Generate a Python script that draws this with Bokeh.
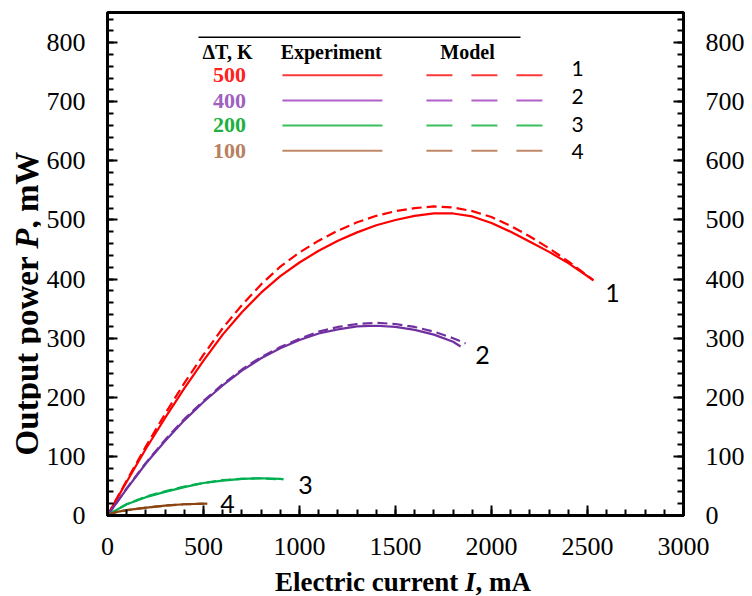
from bokeh.plotting import figure
from bokeh.models import LinearAxis, Range1d, Label, SingleIntervalTicker, Div
from bokeh.layouts import row, column
from bokeh.embed import file_html
from bokeh.resources import INLINE

# ---------------- data ----------------
# curve 1 : dT = 500 K
i500_exp = [0, 50, 100, 200, 300, 400, 500, 600, 700, 800, 900, 1000, 1100, 1200, 1300,
            1400, 1500, 1600, 1700, 1800, 1900, 2000, 2100, 2200, 2300, 2400, 2531]
p500_exp = [0, 29, 57, 113, 165, 215, 262, 306, 344, 377, 405, 428, 448, 465, 479,
            491, 500, 507, 511, 511, 506, 495, 480, 463, 446, 427, 398]
i500_mod = [0, 50, 100, 200, 300, 400, 500, 600, 700, 800, 900, 1000, 1100, 1200, 1300,
            1400, 1500, 1600, 1700, 1800, 1900, 2000, 2100, 2200, 2300, 2400, 2531]
p500_mod = [0, 30, 59, 117, 172, 224, 272, 317, 356, 391, 421, 445, 465, 482, 496,
            507, 515, 520, 523, 521, 515, 505, 490, 472, 452, 430, 398]
# curve 2 : dT = 400 K
i400_exp = [0, 100, 200, 300, 400, 500, 600, 700, 800, 900, 1000, 1100, 1200, 1300,
            1400, 1500, 1600, 1700, 1800, 1839]
p400_exp = [0, 45, 88, 126, 161, 192, 220, 245, 266, 283, 297, 308, 315, 320,
            321, 319, 314, 306, 294, 286]
i400_mod = [0, 100, 200, 300, 400, 500, 600, 700, 800, 900, 1000, 1100, 1200, 1300,
            1400, 1500, 1600, 1700, 1800, 1865]
p400_mod = [0, 46, 89, 128, 163, 194, 222, 247, 268, 285, 299, 311, 319, 324,
            326, 324, 319, 311, 300, 291]
# curve 3 : dT = 200 K
i200_exp = [0, 50, 100, 200, 300, 400, 500, 600, 700, 800, 900, 917]
p200_exp = [0, 10, 19, 31, 40, 48, 55, 59, 62, 63, 62, 61]
i200_mod = [0, 50, 100, 200, 300, 400, 500, 600, 700, 800, 900]
p200_mod = [0, 10, 19, 32, 41, 49, 55, 60, 62, 63, 61]
# curve 4 : dT = 100 K
i100_exp = [0, 16, 50, 100, 172, 250, 312, 400, 520]
p100_exp = [0, 3, 6, 9, 12, 15, 17, 19, 20]
i100_mod = [0, 16, 50, 100, 172, 250, 312, 400, 500]
p100_mod = [0, 3, 6, 9, 12, 15, 17, 19, 20]

legend_dt = ["500", "400", "200", "100"]
curve_ids = ["1", "2", "3", "4"]
x_ticks_interval = 500
y_ticks_interval = 100

# ---------------- styles ----------------
curve_colors = ["#ff0000", "#7030a0", "#00b050", "#8b4513"]
legend_text_colors = ["#ff2020", "#a060c0", "#20b040", "#b88060"]
legend_line_colors = ["#ff3838", "#b060c8", "#38c060", "#c08868"]
SERIF = "Liberation Serif"
SANS = "Lato"

p = figure(width=708, height=568, x_range=Range1d(0, 3000), y_range=Range1d(0, 851),
           output_backend="svg", toolbar_location=None,
           x_axis_location=None, y_axis_location=None,
           min_border_left=67, min_border_right=65, min_border_top=12, min_border_bottom=53)
for g in p.grid:
    g.visible = False
p.outline_line_color = "black"
p.outline_line_width = 3
p.outline_line_alpha = 1.0
p.background_fill_color = "white"
p.border_fill_color = "white"


def style(ax):
    ax.axis_line_width = 3
    ax.axis_line_color = "black"
    ax.major_tick_in = 10
    ax.major_tick_out = 0
    ax.minor_tick_in = 6
    ax.minor_tick_out = 0
    ax.major_tick_line_width = 2
    ax.minor_tick_line_width = 2
    ax.major_label_text_font = SERIF
    ax.major_label_text_font_size = "26px"
    ax.major_label_text_color = "black"
    ax.major_label_standoff = 22


xax = LinearAxis(ticker=SingleIntervalTicker(interval=x_ticks_interval, num_minor_ticks=5))
style(xax)
p.add_layout(xax, "below")
for side in ("left", "right"):
    yax = LinearAxis(ticker=SingleIntervalTicker(interval=y_ticks_interval, num_minor_ticks=5))
    style(yax)
    p.add_layout(yax, side)

# ---------------- curves ----------------
series = [
    (i500_exp, p500_exp, i500_mod, p500_mod),
    (i400_exp, p400_exp, i400_mod, p400_mod),
    (i200_exp, p200_exp, i200_mod, p200_mod),
    (i100_exp, p100_exp, i100_mod, p100_mod),
]
for (ie, pe, im, pm), c in zip(series, curve_colors):
    p.line(im, pm, line_color=c, line_width=2.2, line_dash="10 5")
    p.line(ie, pe, line_color=c, line_width=2.2)

# curve number labels (layout positions in data units)
curve_label_pos = [(2630, 376), (1953, 271), (1031, 52), (625, 20)]
for t, (x, y) in zip(curve_ids, curve_label_pos):
    p.add_layout(Label(x=x, y=y, text=t, text_font=SANS, text_font_size="25px",
                       text_color="black", text_align="center", text_baseline="middle"))

# ---------------- table-like legend ----------------
p.segment(x0=[474], y0=[809], x1=[2151], y1=[809], line_color="black", line_width=1.5)
for t, x in [("\u0394T, K", 625), ("Experiment", 1165), ("Model", 1875)]:
    p.add_layout(Label(x=x, y=784, text=t, text_font=SERIF, text_font_size="20px",
                       text_font_style="bold", text_color="black",
                       text_align="center", text_baseline="middle"))
row_y = [745, 702, 660, 617]
num_y = [756, 709, 662, 616]
for k in range(4):
    y = row_y[k]
    p.add_layout(Label(x=635, y=y, text=legend_dt[k], text_font=SERIF, text_font_size="22px",
                       text_font_style="bold", text_color=legend_text_colors[k],
                       text_align="center", text_baseline="middle"))
    p.segment(x0=[911], y0=[y], x1=[1432], y1=[y], line_color=legend_line_colors[k], line_width=2)
    p.segment(x0=[1661], y0=[y], x1=[2292], y1=[y], line_color=legend_line_colors[k],
              line_width=2, line_dash="26 19")
    p.add_layout(Label(x=2448, y=num_y[k], text=curve_ids[k], text_font=SANS,
                       text_font_size="21px", text_color="black",
                       text_align="center", text_baseline="middle"))

# ---------------- axis titles (with italic symbols) ----------------
ytitle = Div(
    text=('<div style="box-sizing:border-box;width:40px;height:596px;padding-left:16px;'
          'padding-top:10px;display:flex;align-items:center;justify-content:center;">'
          '<div style="transform:rotate(-90deg);white-space:nowrap;'
          "font-family:'Liberation Serif';font-weight:bold;font-size:33px;line-height:1;"
          'color:black;">Output power <i>P</i>, mW</div></div>'),
    width=40, height=596, margin=0)
xtitle = Div(
    text=('<div style="box-sizing:border-box;width:708px;height:28px;padding-left:18px;'
          "text-align:center;font-family:'Liberation Serif';font-weight:bold;"
          'font-size:27px;line-height:28px;white-space:nowrap;color:black;">'
          'Electric current <i>I</i>, mA</div>'),
    width=708, height=28, margin=0)

layout = row(ytitle, column(p, xtitle))
open("out.html", "w").write(file_html(layout, INLINE))
